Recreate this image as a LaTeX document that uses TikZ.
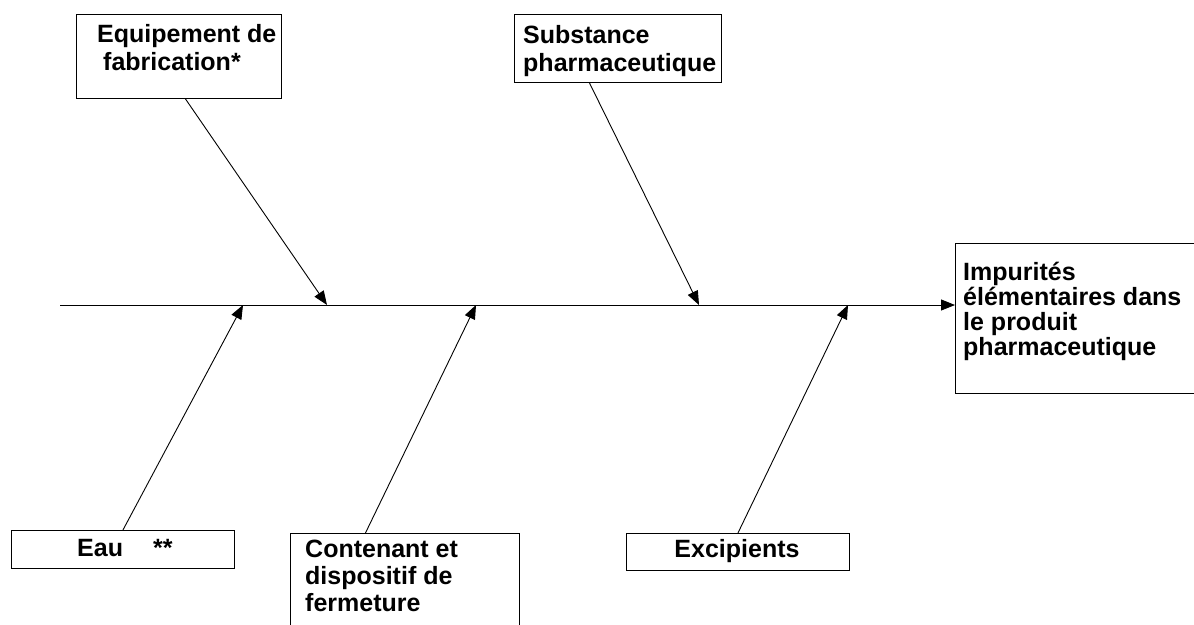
\documentclass[tikz,border=0pt]{standalone}
\usepackage{fontspec}
\setmainfont{Liberation Sans}
\usetikzlibrary{arrows.meta,calc}
\begin{document}
\begin{tikzpicture}[x=1pt,y=-1pt,
  box/.style={draw,line width=0.9pt,rectangle,inner sep=0pt,anchor=north west},
  lbl/.style={inner sep=0pt,anchor=base west,align=left,font=\bfseries\fontsize{25}{28}\selectfont},
  conn/.style={line width=0.9pt,-{Triangle[length=14pt,width=11pt]}}]
\useasboundingbox (0,0) rectangle (1194,624);
% boxes
\node[box,minimum width=205pt,minimum height=84pt] (b1) at (76,14) {};
\node[box,minimum width=207pt,minimum height=68pt] (b2) at (514,14) {};
\node[box,minimum width=250pt,minimum height=150pt] (b3) at (955,243) {};
\node[box,minimum width=223pt,minimum height=38pt] (b4) at (11,530) {};
\node[box,minimum width=229pt,minimum height=100pt] (b5) at (290,533) {};
\node[box,minimum width=223pt,minimum height=37pt] (b6) at (626,533) {};
% labels (base anchor = last line's baseline)
\node[lbl] (t1) at (97,70) {Equipement de\\\hspace*{6pt}fabrication*};
\node[lbl] (t2) at (523,71) {Substance\\pharmaceutique};
\node[lbl,font=\bfseries\fontsize{25}{25}\selectfont] (t3) at (963,355) {Impurités\\élémentaires dans\\le produit\\pharmaceutique};
\node[lbl] (t4) at (77,556) {Eau\hspace{30pt}**};
\node[lbl,font=\bfseries\fontsize{25}{27}\selectfont] (t5) at (305,611) {Contenant et\\dispositif de\\fermeture};
\node[lbl,anchor=base] (t6) at (737,557) {Excipients};
% spine
\coordinate (s0) at (60,305);
\coordinate (p1) at (243,305);
\coordinate (p2) at (327,305);
\coordinate (p3) at (476,305);
\coordinate (p4) at (699,305);
\coordinate (p5) at (848,305);
\draw[conn] (s0) -- (s0 -| b3.west);
% bones
\draw[conn] ([xshift=6.5pt]b1.south) -- (p2);
\draw[conn] ([xshift=-28.5pt]b2.south) -- (p4);
\draw[conn] (b4.north) -- (p1);
\draw[conn] ([xshift=-39.5pt]b5.north) -- (p3);
\draw[conn] (b6.north) -- (p5);
\end{tikzpicture}
\end{document}
